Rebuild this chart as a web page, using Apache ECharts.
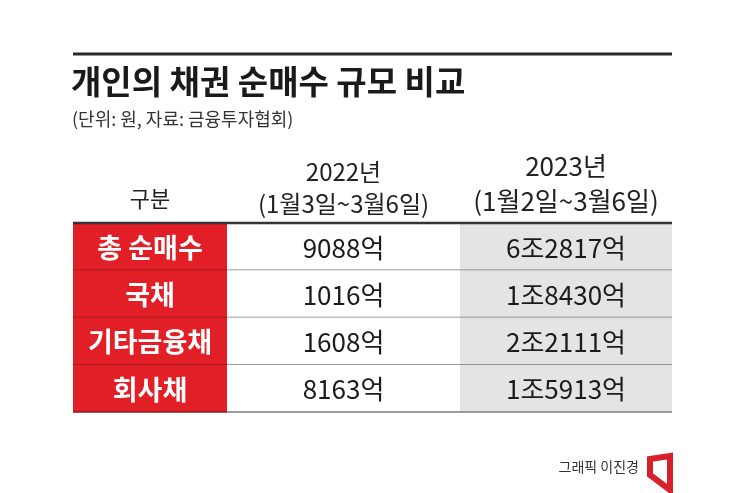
<!DOCTYPE html>
<html>
<head>
<meta charset="utf-8">
<title>개인의 채권 순매수 규모 비교</title>
<script src="https://cdn.jsdelivr.net/npm/echarts@6/dist/echarts.min.js"></script>
<style>
  html, body { margin: 0; padding: 0; background: #fff; }
  #main { width: 745px; height: 493px; }
</style>
</head>
<body>
<div id="main"></div>
<script>
    // 표 데이터 (단위: 억원)
    var rowNames = ['총 순매수', '국채', '기타금융채', '회사채'];
    var colHeaders = ['구분', '2022년\n(1월3일~3월6일)', '2023년\n(1월2일~3월6일)'];
    var buy2022 = [9088, 1016, 1608, 8163];
    var buy2023 = [62817, 18430, 22111, 15913];

    function fmt(v) {
        var jo = Math.floor(v / 10000), eok = v % 10000;
        return (jo > 0 ? jo + '조' : '') + eok + '억';
    }

    var FONT = '"Noto Sans CJK KR", "Noto Sans CJK SC", sans-serif';
    var TOP = 223, BOTTOM = 81;

    // 열 설정
    var cols = [
        {left: 73, width: 154, fill: '#e21f26', line: '#8a1c1c', color: '#fff', weight: 'bold', size: 27,
            headSize: 22, headLH: 32, headMargin: 8, texts: rowNames},
        {left: 227, width: 233, fill: '#fff', line: '#7d7d7d', color: '#1b1b1b', weight: 'normal', size: 26,
            headSize: 24, headLH: 32, headMargin: 3, texts: buy2022.map(fmt)},
        {left: 460, width: 212, fill: '#e4e4e4', line: '#7d7d7d', color: '#1b1b1b', weight: 'normal', size: 26,
            headSize: 26, headLH: 35, headMargin: 4, texts: buy2023.map(fmt)}
    ];

    function cellRenderer(c) {
        return function (params, api) {
            var r = api.value(1);
            var p = api.coord([0, r]);
            var s = api.size([1, 1]);
            var x = p[0] - s[0] / 2, y = p[1] - s[1] / 2, w = s[0], h = s[1];
            var kids = [
                {type: 'rect', shape: {x: x, y: y, width: w, height: h}, style: {fill: c.fill}},
                {type: 'line', shape: {x1: x, y1: y + h, x2: x + w, y2: y + h},
                    style: {stroke: c.line, lineWidth: 1.5}},
                {type: 'text', x: p[0], y: p[1] + 1, style: {
                    text: c.texts[params.dataIndex], fill: c.color, font: c.weight + ' ' + c.size + 'px ' + FONT,
                    align: 'center', verticalAlign: 'middle'}}
            ];
            if (r === 0) {
                kids.push({type: 'line', shape: {x1: x, y1: y, x2: x + w, y2: y},
                    style: {stroke: '#333', lineWidth: 2.5}});
            }
            return {type: 'group', children: kids};
        };
    }

    var grids = [], xAxes = [], yAxes = [], series = [];
    cols.forEach(function (c, i) {
        grids.push({left: c.left, width: c.width, top: TOP, bottom: BOTTOM,
            containLabel: false, outerBoundsMode: 'none'});
        xAxes.push({
            type: 'category', gridIndex: i, position: 'top', data: [colHeaders[i]],
            axisLine: {show: false}, axisTick: {show: false}, splitLine: {show: false},
            axisLabel: {interval: 0, margin: c.headMargin, fontFamily: FONT, fontSize: c.headSize,
                lineHeight: c.headLH, color: '#222', align: 'center'}
        });
        yAxes.push({
            type: 'category', gridIndex: i, inverse: true, data: rowNames, show: false
        });
        series.push({
            type: 'custom', xAxisIndex: i, yAxisIndex: i, clip: false, silent: true,
            renderItem: cellRenderer(c),
            data: rowNames.map(function (n, r) { return [0, r]; })
        });
    });

    var myChart = echarts.init(document.getElementById('main'));
    var option = {
        backgroundColor: '#fff',
        animation: false,
        title: [
            {text: '개인의 채권 순매수 규모 비교', left: 71, top: 65, padding: 0,
                textStyle: {fontFamily: FONT, fontSize: 33, fontWeight: 'bold', color: '#1a1a1a'}},
            {text: '(단위: 원, 자료: 금융투자협회)', left: 72, top: 110, padding: 0,
                textStyle: {fontFamily: FONT, fontSize: 18, fontWeight: 'normal', color: '#333'}}
        ],
        grid: grids,
        xAxis: xAxes,
        yAxis: yAxes,
        series: series,
        graphic: [
            {type: 'line', shape: {x1: 73, y1: 54, x2: 672, y2: 54}, style: {stroke: '#2a2a2a', lineWidth: 3}},
            {type: 'text', x: 639, y: 467, style: {text: '그래픽 이진경', font: '14px ' + FONT, fill: '#333',
                align: 'right', verticalAlign: 'middle'}},
            {type: 'polygon', shape: {points: [[650, 459], [670, 456], [670, 490], [650, 475]]},
                style: {fill: 'none', stroke: '#d8202a', lineWidth: 6, lineJoin: 'miter'}}
        ]
    };
    myChart.setOption(option);
</script>
</body>
</html>
